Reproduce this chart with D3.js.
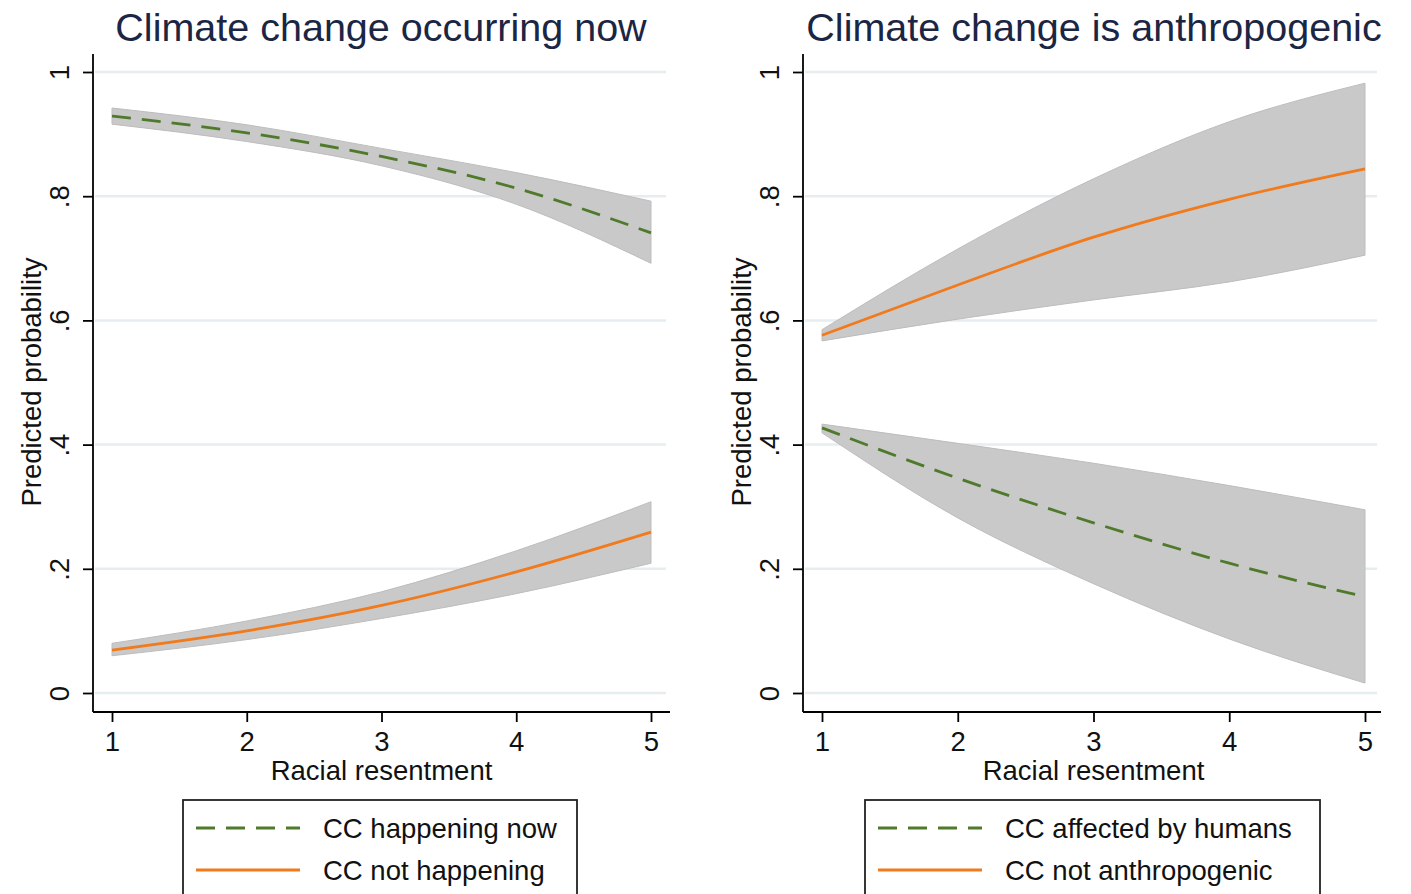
<!DOCTYPE html>
<html><head><meta charset="utf-8">
<script src="https://cdn.jsdelivr.net/npm/d3@7"></script>
<style>html,body{margin:0;padding:0;background:#fff;}svg{display:block;font-family:"Liberation Sans",Arial,sans-serif;}</style>
</head><body>
<svg id="c" width="1411" height="894"></svg>
<script>
const xValues = [1, 2, 3, 4, 5];
const xTicks = [1, 2, 3, 4, 5];
const yTicks = [0, 0.2, 0.4, 0.6, 0.8, 1];
const yTickLabels = ["0", ".2", ".4", ".6", ".8", "1"];

// Panel 1: Climate change occurring now
const happeningNow = [0.929, 0.902, 0.864, 0.813, 0.741];
const happeningNowLo = [0.916, 0.888, 0.849, 0.787, 0.692];
const happeningNowHi = [0.942, 0.915, 0.877, 0.838, 0.792];
const notHappening = [0.069, 0.100, 0.141, 0.195, 0.259];
const notHappeningLo = [0.060, 0.086, 0.120, 0.160, 0.209];
const notHappeningHi = [0.080, 0.116, 0.163, 0.229, 0.308];

// Panel 2: Climate change is anthropogenic
const affectedHumans = [0.427, 0.346, 0.274, 0.209, 0.155];
const affectedHumansLo = [0.419, 0.282, 0.176, 0.087, 0.016];
const affectedHumansHi = [0.433, 0.402, 0.370, 0.334, 0.295];
const notAnthro = [0.576, 0.657, 0.734, 0.795, 0.844];
const notAnthroLo = [0.567, 0.602, 0.633, 0.662, 0.705];
const notAnthroHi = [0.585, 0.715, 0.828, 0.920, 0.982];

const titles = ["Climate change occurring now", "Climate change is anthropogenic"];
const legendLabels = [["CC happening now", "CC not happening"], ["CC affected by humans", "CC not anthropogenic"]];
const xLabel = "Racial resentment";
const yLabel = "Predicted probability";

const GREEN = "#4f7a2c", ORANGE = "#f07a1c", BAND = "#c9c9c9", GRID = "#e6edf0";

const svg = d3.select("#c");

const panels = [
  {axisX: 93, xr: [112, 651], right: 670, titleX: 381,
   series: [
     {v: happeningNow, lo: happeningNowLo, hi: happeningNowHi, color: GREEN, dash: "19,11"},
     {v: notHappening, lo: notHappeningLo, hi: notHappeningHi, color: ORANGE, dash: null}
   ], legend: {x: 183, w: 394}},
  {axisX: 803, xr: [822, 1365], right: 1381, titleX: 1094,
   series: [
     {v: notAnthro, lo: notAnthroLo, hi: notAnthroHi, color: ORANGE, dash: null},
     {v: affectedHumans, lo: affectedHumansLo, hi: affectedHumansHi, color: GREEN, dash: "19,11"}
   ], legend: {x: 865, w: 455}}
];

const y = d3.scaleLinear().domain([0, 1]).range([693, 72]);
const FS = 27.5;

panels.forEach((p, pi) => {
  const g = svg.append("g");
  const x = d3.scaleLinear().domain([1, 5]).range(p.xr);

  g.selectAll(".grid").data(yTicks).enter().append("line")
    .attr("x1", p.axisX + 2).attr("x2", p.right - 4)
    .attr("y1", d => y(d)).attr("y2", d => y(d))
    .attr("stroke", GRID).attr("stroke-width", 2.5);

  p.series.forEach(s => {
    const pts = xValues.map((xv, i) => ({x: xv, lo: s.lo[i], hi: s.hi[i]}));
    g.append("path").datum(pts)
      .attr("d", d3.area().x(d => x(d.x)).y0(d => y(d.lo)).y1(d => y(d.hi)).curve(d3.curveMonotoneX))
      .attr("fill", BAND).attr("stroke", "#bdbdbd").attr("stroke-width", 1);
  });
  p.series.forEach(s => {
    const pts = xValues.map((xv, i) => ({x: xv, v: s.v[i]}));
    g.append("path").datum(pts)
      .attr("d", d3.line().x(d => x(d.x)).y(d => y(d.v)).curve(d3.curveMonotoneX))
      .attr("fill", "none").attr("stroke", s.color).attr("stroke-width", 2.8)
      .attr("stroke-dasharray", s.dash);
  });

  const ya = g.append("g").attr("transform", `translate(${p.axisX},0)`)
    .call(d3.axisLeft(y).tickValues(yTicks).tickSize(10).tickFormat((d, i) => yTickLabels[i]));
  ya.select(".domain").attr("d", `M0,54V712`).attr("stroke", "#000").attr("stroke-width", 1.8);
  ya.selectAll(".tick line").attr("stroke", "#000").attr("stroke-width", 1.8);
  ya.selectAll(".tick text").attr("font-size", FS).attr("fill", "#111")
    .attr("transform", "rotate(-90)").attr("x", 0).attr("dy", 0).attr("y", -24)
    .attr("text-anchor", "middle").attr("font-family", "Liberation Sans, Arial, sans-serif");

  const xa = g.append("g").attr("transform", `translate(0,712)`)
    .call(d3.axisBottom(x).tickValues(xTicks).tickSize(10).tickFormat(d3.format("d")));
  xa.select(".domain").attr("d", `M${p.axisX},0H${p.right}`).attr("stroke", "#000").attr("stroke-width", 1.8);
  xa.selectAll(".tick line").attr("stroke", "#000").attr("stroke-width", 1.8);
  xa.selectAll(".tick text").attr("font-size", FS).attr("fill", "#111").attr("y", 19)
    .attr("font-family", "Liberation Sans, Arial, sans-serif");

  g.append("text").attr("x", (p.xr[0] + p.xr[1]) / 2).attr("y", 780)
    .attr("text-anchor", "middle").attr("font-size", FS).attr("fill", "#111").text(xLabel);
  g.append("text").attr("transform", `translate(${p.axisX - 52},382) rotate(-90)`)
    .attr("text-anchor", "middle").attr("font-size", FS).attr("fill", "#111").text(yLabel);

  g.append("text").attr("x", p.titleX).attr("y", 41).attr("text-anchor", "middle")
    .attr("font-size", 39.5).attr("fill", "#1b2544").text(titles[pi]);

  const L = p.legend;
  g.append("rect").attr("x", L.x).attr("y", 800).attr("width", L.w).attr("height", 110)
    .attr("fill", "#fff").attr("stroke", "#222").attr("stroke-width", 1.8);
  const legendSeries = [{color: GREEN, dash: "19,11"}, {color: ORANGE, dash: null}];
  legendSeries.forEach((s, i) => {
    const yy = 828 + i * 42;
    g.append("line").attr("x1", L.x + 13).attr("x2", L.x + 117).attr("y1", yy).attr("y2", yy)
      .attr("stroke", s.color).attr("stroke-width", 2.8).attr("stroke-dasharray", s.dash);
    g.append("text").attr("x", L.x + 140).attr("y", yy + 10).attr("font-size", FS).attr("fill", "#111")
      .text(legendLabels[pi][i]);
  });
});
</script>
</body></html>
